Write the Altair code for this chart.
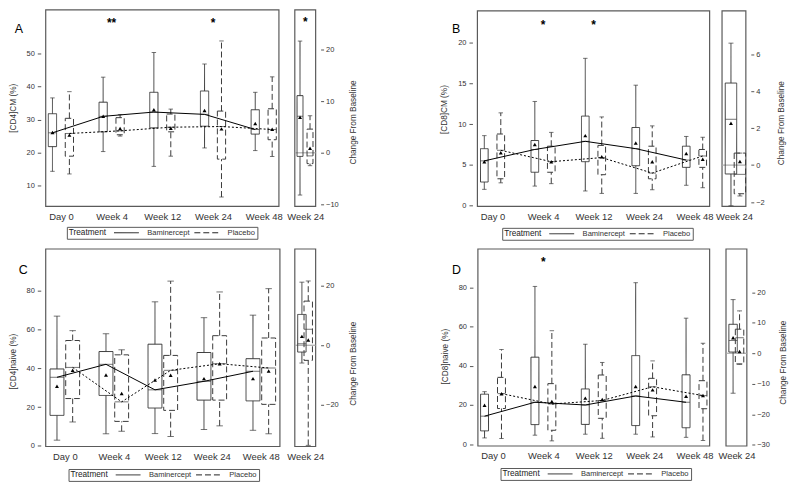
import json
import altair as alt
import pandas as pd

TIMES = ["Day 0", "Week 4", "Week 12", "Week 24", "Week 48"]
TREATMENTS = ["Baminercept", "Placebo"]
SIDE_TIME = "Week 24"
LEGEND_TITLE = "Treatment"
SIDE_TITLE = "Change From Baseline"

# ---------------- Panel A : [CD4]CM (%) ----------------
A_BAM_LOW = [14.3, 20.3, 15.8, 21.4, 20.6]
A_BAM_Q1 = [21.8, 26.3, 27.5, 28.0, 25.6]
A_BAM_MED = [26.0, 31.0, 32.3, 31.6, 27.0]
A_BAM_Q3 = [31.8, 35.3, 38.3, 38.7, 33.0]
A_BAM_HIGH = [36.6, 42.9, 50.4, 46.9, 38.3]
A_BAM_MEAN = [26.1, 31.0, 33.0, 32.8, 28.8]
A_PLA_LOW = [13.5, 25.0, 18.9, 6.5, 18.8]
A_PLA_Q1 = [18.9, 25.4, 26.3, 18.0, 23.9]
A_PLA_MED = [25.8, 26.6, 27.7, 27.9, 27.0]
A_PLA_Q3 = [30.4, 30.6, 31.7, 32.6, 33.3]
A_PLA_HIGH = [38.5, 31.5, 33.2, 53.9, 43.0]
A_PLA_MEAN = [25.3, 27.3, 27.4, 27.2, 27.1]
# change from baseline at week 24: low, q1, median, q3, high, mean
A_CHG_BAM = [-8.2, -0.7, 7.1, 11.1, 21.7, 6.9]
A_CHG_PLA = [-2.5, -2.1, -0.6, 4.6, 7.2, 0.9]
A_STAR_AT = ["Week 4", "Week 24"]
A_STARS = ["**", "*"]
A_STAR_Y = 60.0
A_CHG_STAR_Y = 25.8

# ---------------- Panel B : [CD8]CM (%) ----------------
B_BAM_LOW = [2.0, 2.4, 1.8, 1.5, 2.5]
B_BAM_Q1 = [2.9, 4.1, 5.4, 4.9, 4.7]
B_BAM_MED = [5.5, 6.9, 7.9, 7.0, 5.6]
B_BAM_Q3 = [7.0, 8.0, 11.0, 9.6, 7.3]
B_BAM_HIGH = [8.6, 12.8, 18.1, 14.8, 8.5]
B_BAM_MEAN = [5.4, 7.5, 8.6, 7.7, 6.4]
B_PLA_LOW = [2.8, 2.7, 1.5, 1.95, 2.2]
B_PLA_Q1 = [3.3, 4.1, 3.8, 3.3, 4.7]
B_PLA_MED = [6.8, 5.4, 5.9, 4.0, 6.1]
B_PLA_Q3 = [8.8, 7.3, 7.4, 7.3, 6.9]
B_PLA_HIGH = [11.4, 9.0, 10.9, 9.8, 8.4]
B_PLA_MEAN = [6.5, 5.4, 6.0, 5.4, 5.7]
B_CHG_BAM = [-2.2, -0.48, 2.48, 4.44, 6.6, 2.26]
B_CHG_PLA = [-1.67, -1.55, -0.5, 0.65, 0.65, 0.2]
B_STAR_AT = ["Week 4", "Week 12"]
B_STARS = ["*", "*"]
B_STAR_Y = 22.5

# ---------------- Panel C : [CD4]naive (%) ----------------
C_BAM_LOW = [2.9, 6.2, 6.3, 8.4, 8.0]
C_BAM_Q1 = [15.7, 26.0, 19.5, 23.6, 23.2]
C_BAM_MED = [35.4, 42.1, 28.9, 33.3, 38.5]
C_BAM_Q3 = [39.7, 48.7, 52.5, 48.2, 45.0]
C_BAM_HIGH = [67.0, 57.9, 74.4, 66.2, 67.5]
C_BAM_MEAN = [30.8, 36.6, 34.0, 34.7, 34.7]
C_PLA_LOW = [12.3, 7.5, 4.8, 10.3, 6.2]
C_PLA_Q1 = [24.4, 12.6, 18.3, 23.6, 21.4]
C_PLA_MED = [40.5, 22.7, 39.0, 42.4, 40.2]
C_PLA_Q3 = [54.4, 47.0, 46.7, 56.9, 55.7]
C_PLA_HIGH = [59.5, 49.6, 85.1, 79.5, 81.2]
C_PLA_MEAN = [39.0, 27.0, 36.4, 42.4, 38.6]
C_CHG_BAM = [-6.0, -2.3, 0.5, 10.4, 21.3, 3.0]
C_CHG_PLA = [-33.8, -5.1, 5.4, 14.9, 21.7, 1.8]

# ---------------- Panel D : [CD8]naive (%) ----------------
D_BAM_LOW = [3.2, 4.6, 5.1, 5.1, 3.5]
D_BAM_Q1 = [6.8, 10.0, 10.1, 9.5, 8.4]
D_BAM_MED = [14.3, 21.4, 20.0, 24.6, 21.4]
D_BAM_Q3 = [25.5, 44.4, 28.2, 45.2, 35.4]
D_BAM_HIGH = [26.8, 80.5, 51.0, 82.4, 64.3]
D_BAM_MEAN = [19.9, 29.4, 23.5, 29.4, 24.5]
D_PLA_LOW = [2.9, 1.7, 3.0, 3.7, 1.9]
D_PLA_Q1 = [18.2, 7.1, 13.2, 14.5, 18.1]
D_PLA_MED = [25.8, 20.5, 22.3, 29.3, 24.8]
D_PLA_Q3 = [34.1, 30.9, 35.3, 33.6, 32.4]
D_PLA_HIGH = [48.3, 57.9, 41.7, 42.5, 51.5]
D_PLA_MEAN = [25.7, 21.8, 22.8, 27.7, 24.8]
D_CHG_BAM = [-13.1, 0.4, 4.2, 9.5, 17.6, 5.1]
D_CHG_PLA = [-3.6, -3.5, 5.1, 7.9, 13.9, 0.6]
D_STAR_AT = ["Week 4"]
D_STARS = ["*"]
D_STAR_Y = 94.0

# ---------------- layout / style ----------------
W, H = 790, 478
FONT = "Liberation Sans"
INK = "#3a3a3a"
FRAME = "#5a5a5a"
DASHES = [[1, 0], [6, 3]]
STAT_KEYS = ["low", "q1", "med", "q3", "high", "mean"]


def stat(*cols):
    return dict(zip(STAT_KEYS, cols))


def legend_spec(lx, ly):
    return alt.Legend(
        orient="none", legendX=lx, legendY=ly, direction="horizontal",
        title=LEGEND_TITLE, titleOrient="left", titleFontSize=8.3, titleFontWeight="normal",
        titleColor="#222", titlePadding=7, titleBaseline="middle",
        labelFontSize=7.6, labelColor="#333", labelOffset=8, columnPadding=4,
        symbolType="stroke", symbolSize=625, symbolStrokeWidth=1, symbolStrokeColor="#222",
        clipHeight=7, padding=2, strokeColor=FRAME, cornerRadius=0,
    )


def box_layers(base, X, Y, boxw, dash_enc):
    """Boxes (one layer per treatment, fixed dash), whiskers (dash via scale), caps, medians."""
    layers = []
    for trt, d in zip(TREATMENTS, DASHES):
        layers.append(base.transform_filter(alt.datum.trt == trt).mark_bar(
            orient="vertical", size=boxw, fillOpacity=0, stroke=INK, strokeWidth=1,
            strokeDash=d).encode(x=X("pos"), y=Y("q1"), y2="q3"))
    layers.append(base.mark_rule(color=INK, strokeWidth=1).encode(
        x=X("pos"), y=Y("low"), y2="q1", strokeDash=dash_enc))
    layers.append(base.mark_rule(color=INK, strokeWidth=1).encode(
        x=X("pos"), y=Y("q3"), y2="high", strokeDash=dash_enc))
    return layers


def main_panel(P):
    rows = []
    for trt, st, sgn in ((TREATMENTS[0], P["bam"], -1), (TREATMENTS[1], P["pla"], 1)):
        for i, t in enumerate(TIMES):
            r = {"trt": trt, "time": t, "pos": i + sgn * P["off"]}
            for k in STAT_KEYS:
                r[k] = st[k][i]
            rows.append(r)
    df = pd.DataFrame(rows)
    xs = alt.Scale(domain=P["xdom"], range=P["xr"], nice=False, zero=False)
    ys = alt.Scale(domain=P["ydom"], range=P["yr"], nice=False, zero=False)
    xax = alt.Axis(orient="bottom", offset=P["yr"][0] - H, values=list(range(len(TIMES))),
                   labelExpr=json.dumps(TIMES) + "[datum.value]", title=None, ticks=False,
                   tickSize=0, domain=False, grid=False, labelFontSize=9.5, labelColor="#333",
                   labelPadding=5, labelFlush=False, labelOverlap=False)
    yax = alt.Axis(orient="left", offset=-P["xr"][0], values=P["yticks"], title=P["ytitle"],
                   domain=False, grid=False, tickSize=3.5, tickColor="#555", labelFontSize=7.5,
                   labelColor="#333", labelPadding=3, titleFontSize=8.3, titleFontWeight="normal",
                   titleColor="#333", titlePadding=9, titleY=P["ytitleY"])

    def X(f):
        return alt.X(f, type="quantitative", scale=xs, axis=xax)

    def Y(f):
        return alt.Y(f, type="quantitative", scale=ys, axis=yax)

    dash_leg = alt.StrokeDash("trt:N", scale=alt.Scale(domain=TREATMENTS, range=DASHES),
                              legend=legend_spec(*P["legend"]))
    base = alt.Chart(df)
    frame = alt.Chart(pd.DataFrame({"x0": [P["xdom"][0]], "x1": [P["xdom"][1]],
                                    "y0": [P["ydom"][0]], "y1": [P["ydom"][1]]})).mark_rect(
        fillOpacity=0, stroke=FRAME, strokeWidth=1.2).encode(x=X("x0"), x2="x1", y=Y("y0"), y2="y1")
    cap_lo = base.mark_tick(orient="horizontal", size=P["capw"], thickness=1, color=INK).encode(
        x=X("pos"), y=Y("low"))
    cap_hi = base.mark_tick(orient="horizontal", size=P["capw"], thickness=1, color=INK).encode(
        x=X("pos"), y=Y("high"))
    med = base.mark_tick(orient="horizontal", size=P["boxw"], thickness=1, color=INK).encode(
        x=X("pos"), y=Y("med"))
    line_b = base.transform_filter(alt.datum.trt == TREATMENTS[0]).mark_line(
        color="black", strokeWidth=1).encode(x=X("pos"), y=Y("med"))
    line_p = base.transform_filter(alt.datum.trt == TREATMENTS[1]).mark_line(
        color="black", strokeWidth=1, strokeDash=[2, 2]).encode(x=X("pos"), y=Y("med"))
    mean = base.mark_point(shape="triangle-up", filled=True, size=16, color="black",
                           opacity=1).encode(x=X("pos"), y=Y("mean"))
    letter = alt.Chart(pd.DataFrame({"x": [P["letter_xy"][0]], "y": [P["letter_xy"][1]],
                                     "t": [P["letter"]]})).mark_text(
        align="left", baseline="alphabetic", fontSize=12.5, color="black").encode(
        x=X("x"), y=Y("y"), text="t:N")
    layers = [frame] + box_layers(base, X, Y, P["boxw"], dash_leg) + [
        cap_lo, cap_hi, med, line_b, line_p, mean, letter]
    if P["stars"]:
        sdf = pd.DataFrame({"pos": [TIMES.index(t) for t in P["star_at"]],
                            "y": [P["star_y"]] * len(P["stars"]), "s": P["stars"]})
        layers.append(alt.Chart(sdf).mark_text(fontSize=12, fontWeight="bold", baseline="middle",
                                               dy=2.5, color="black").encode(
            x=X("pos"), y=Y("y"), text="s:N"))
    return alt.layer(*layers)


def side_panel(P):
    rows = []
    for trt, st, off in ((TREATMENTS[0], P["bam"], P["offs"][0]), (TREATMENTS[1], P["pla"], P["offs"][1])):
        r = {"trt": trt, "pos": off}
        r.update(dict(zip(STAT_KEYS, st)))
        rows.append(r)
    df = pd.DataFrame(rows)
    xs = alt.Scale(domain=P["xdom"], range=P["xr"], nice=False, zero=False)
    ys = alt.Scale(domain=P["ydom"], range=P["yr"], nice=False, zero=False)
    xax = alt.Axis(orient="bottom", offset=P["yr"][0] - H, values=[0],
                   labelExpr=json.dumps(SIDE_TIME), title=None, ticks=False, tickSize=0,
                   domain=False, grid=False, labelFontSize=9.5, labelColor="#333",
                   labelPadding=5, labelFlush=False, labelOverlap=False)
    yax = alt.Axis(orient="right", offset=P["xr"][1] - W, values=P["yticks"], title=SIDE_TITLE,
                   domain=False, grid=False, tickSize=3, tickColor="#555", labelFontSize=7.5,
                   labelColor="#333", labelPadding=2, titleFontSize=8.3, titleFontWeight="normal",
                   titleColor="#333", titleAngle=270, titleBaseline="top",
                   titlePadding=P["tpad"], titleY=P["ytitleY"])

    def X(f):
        return alt.X(f, type="quantitative", scale=xs, axis=xax)

    def Y(f):
        return alt.Y(f, type="quantitative", scale=ys, axis=yax)

    dash = alt.StrokeDash("trt:N", scale=alt.Scale(domain=TREATMENTS, range=DASHES), legend=None)
    base = alt.Chart(df)
    frame = alt.Chart(pd.DataFrame({"x0": [P["xdom"][0]], "x1": [P["xdom"][1]],
                                    "y0": [P["ydom"][0]], "y1": [P["ydom"][1]]})).mark_rect(
        fillOpacity=0, stroke=FRAME, strokeWidth=1.2).encode(x=X("x0"), x2="x1", y=Y("y0"), y2="y1")
    ref = alt.Chart(pd.DataFrame({"x0": [P["xdom"][0]], "x1": [P["xdom"][1]], "zero": [0]})).mark_rule(
        color="#aaaaaa", strokeWidth=1.2).encode(x=X("x0"), x2="x1", y=Y("zero"))
    cap_lo = base.mark_tick(orient="horizontal", size=P["capw"], thickness=1, color=INK).encode(
        x=X("pos"), y=Y("low"))
    cap_hi = base.mark_tick(orient="horizontal", size=P["capw"], thickness=1, color=INK).encode(
        x=X("pos"), y=Y("high"))
    med = base.mark_tick(orient="horizontal", size=P["boxw"], thickness=1, color=INK).encode(
        x=X("pos"), y=Y("med"))
    mean = base.mark_point(shape="triangle-up", filled=True, size=16, color="black",
                           opacity=1).encode(x=X("pos"), y=Y("mean"))
    layers = [frame, ref] + box_layers(base, X, Y, P["boxw"], dash) + [cap_lo, cap_hi, med, mean]
    if P.get("star") is not None:
        layers.append(alt.Chart(pd.DataFrame({"pos": [0], "y": [P["star"]], "s": ["*"]})).mark_text(
            fontSize=12, fontWeight="bold", baseline="middle", dy=2.5, color="black").encode(
            x=X("pos"), y=Y("y"), text="s:N"))
    return alt.layer(*layers)


A_main = main_panel(dict(
    bam=stat(A_BAM_LOW, A_BAM_Q1, A_BAM_MED, A_BAM_Q3, A_BAM_HIGH, A_BAM_MEAN),
    pla=stat(A_PLA_LOW, A_PLA_Q1, A_PLA_MED, A_PLA_Q3, A_PLA_HIGH, A_PLA_MEAN),
    xdom=[-0.3, 4.3], xr=[33, 278], ydom=[3.67, 63.36], yr=[198, 0],
    yticks=[10, 20, 30, 40, 50], off=0.167, boxw=8.3, capw=4.5,
    ytitle="[CD4]CM (%)", ytitleY=98.7, legend=(59.3, 218.7),
    letter="A", letter_xy=(-0.91, 56.2),
    stars=A_STARS, star_at=A_STAR_AT, star_y=A_STAR_Y))
A_side = side_panel(dict(
    bam=A_CHG_BAM, pla=A_CHG_PLA, offs=(-0.5, 0.46), xdom=[-1, 1], xr=[284, 315],
    ydom=[-10.39, 27.77], yr=[198, 0], yticks=[-10, 0, 10, 20], boxw=6, capw=4.5,
    tpad=10, ytitleY=113, star=A_CHG_STAR_Y))

B_main = main_panel(dict(
    bam=stat(B_BAM_LOW, B_BAM_Q1, B_BAM_MED, B_BAM_Q3, B_BAM_HIGH, B_BAM_MEAN),
    pla=stat(B_PLA_LOW, B_PLA_Q1, B_PLA_MED, B_PLA_Q3, B_PLA_HIGH, B_PLA_MEAN),
    xdom=[-0.3, 4.3], xr=[468, 712], ydom=[-0.085, 23.94], yr=[198, 1],
    yticks=[0, 5, 10, 15, 20], off=0.163, boxw=7.7, capw=4.5,
    ytitle="[CD8]CM (%)", ytitleY=100, legend=(498, 219.7),
    letter="B", letter_xy=(-0.803, 21.17),
    stars=B_STARS, star_at=B_STAR_AT, star_y=B_STAR_Y))
B_side = side_panel(dict(
    bam=B_CHG_BAM, pla=B_CHG_PLA, offs=(-0.25, 0.5), xdom=[-1, 1], xr=[714.5, 748.5],
    ydom=[-2.23, 8.35], yr=[198, 1], yticks=[-2, 0, 2, 4, 6], boxw=11.5, capw=5,
    tpad=12, ytitleY=113.7))

C_main = main_panel(dict(
    bam=stat(C_BAM_LOW, C_BAM_Q1, C_BAM_MED, C_BAM_Q3, C_BAM_HIGH, C_BAM_MEAN),
    pla=stat(C_PLA_LOW, C_PLA_Q1, C_PLA_MED, C_PLA_Q3, C_PLA_HIGH, C_PLA_MEAN),
    xdom=[-0.39, 4.39], xr=[33, 279], ydom=[-0.36, 101.7], yr=[440, 241],
    yticks=[0, 20, 40, 60, 80], off=0.16, boxw=14, capw=6.5,
    ytitle="[CD4]naive (%)", ytitleY=354, legend=(61, 462.7),
    letter="C", letter_xy=(-0.94, 88.9), stars=[], star_at=[], star_y=0))
C_side = side_panel(dict(
    bam=C_CHG_BAM, pla=C_CHG_PLA, offs=(-0.32, 0.29), xdom=[-1, 1], xr=[284, 315],
    ydom=[-34.17, 32.5], yr=[440, 241], yticks=[-20, 0, 20], boxw=8.5, capw=5,
    tpad=10, ytitleY=356))

D_main = main_panel(dict(
    bam=stat(D_BAM_LOW, D_BAM_Q1, D_BAM_MED, D_BAM_Q3, D_BAM_HIGH, D_BAM_MEAN),
    pla=stat(D_PLA_LOW, D_PLA_Q1, D_PLA_MED, D_PLA_Q3, D_PLA_HIGH, D_PLA_MEAN),
    xdom=[-0.3, 4.3], xr=[468.5, 712], ydom=[-0.91, 99.6], yr=[439.5, 241],
    yticks=[0, 20, 40, 60, 80], off=0.168, boxw=8, capw=4.5,
    ytitle="[CD8]naive (%)", ytitleY=349, legend=(496.3, 461.7),
    letter="D", letter_xy=(-0.814, 86.8),
    stars=D_STARS, star_at=D_STAR_AT, star_y=D_STAR_Y))
D_side = side_panel(dict(
    bam=D_CHG_BAM, pla=D_CHG_PLA, offs=(-0.32, 0.3), xdom=[-1, 1], xr=[718.5, 749.5],
    ydom=[-30.4, 34.2], yr=[439.5, 241], yticks=[-30, -20, -10, 0, 10, 20], boxw=8.5, capw=5,
    tpad=9.5, ytitleY=355))

chart = alt.layer(A_main, A_side, B_main, B_side, C_main, C_side, D_main, D_side).resolve_scale(
    x="independent", y="independent", strokeDash="independent"
).resolve_axis(x="independent", y="independent").resolve_legend(
    strokeDash="independent"
).properties(
    width=W, height=H, autosize=alt.AutoSizeParams(type="none"), padding=0
).configure(font=FONT).configure_view(strokeWidth=0)

chart.save("out.html", embed_options={"renderer": "svg", "actions": False})
